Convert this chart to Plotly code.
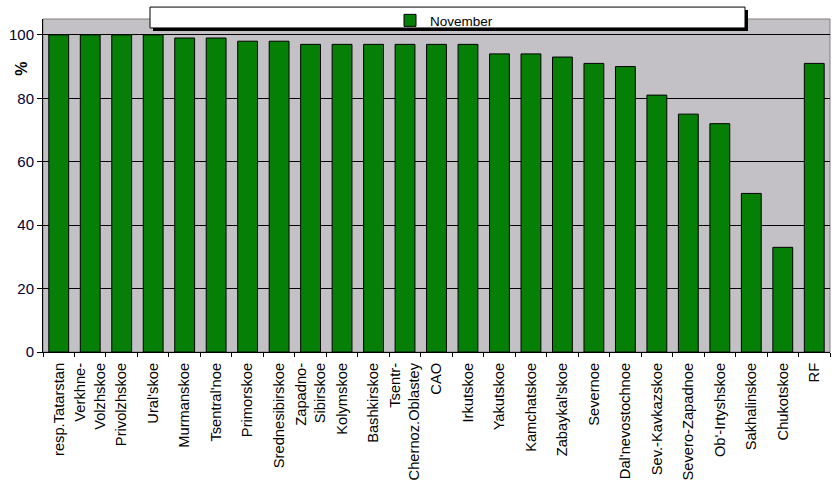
import plotly.graph_objects as go

categories = [
    "resp.Tatarstan", "Verkhne-<br>Volzhskoe", "Privolzhskoe", "Ural'skoe", "Murmanskoe",
    "Tsentral'noe", "Primorskoe", "Srednesibirskoe", "Zapadno-<br>Sibirskoe", "Kolymskoe",
    "Bashkirskoe", "Tsentr-<br>Chernoz.Oblastey", "CAO", "Irkutskoe", "Yakutskoe",
    "Kamchatskoe", "Zabaykal'skoe", "Severnoe", "Dal'nevostochnoe", "Sev.-Kavkazskoe",
    "Severo-Zapadnoe", "Ob'-Irtyshskoe", "Sakhalinskoe", "Chukotskoe", "RF",
]
november = [100, 100, 100, 100, 99, 99, 98, 98, 97, 97, 97, 97, 97, 97, 94,
            94, 93, 91, 90, 81, 75, 72, 50, 33, 91]
y_ticks = [0, 20, 40, 60, 80, 100]

FONT = "Liberation Sans, Arial, sans-serif"

fig = go.Figure()
fig.add_trace(go.Bar(
    x=categories, y=november, name="November",
    marker=dict(color="#067F06", line=dict(color="black", width=1)),
))

W, H = 835, 499
L, R, T, B = 43, 5, 17, 147
pw, ph = W - L - R, H - T - B

def px_x(x):
    return (x - L) / pw

def px_y(y):
    return (H - B - y) / ph

shapes = [
    dict(type="rect", xref="paper", yref="paper", x0=0, x1=1, y0=0, y1=1,
         line=dict(color="#808080", width=1), layer="below"),
    dict(type="rect", xref="paper", yref="paper",
         x0=px_x(153), x1=px_x(748), y0=px_y(29), y1=px_y(8),
         fillcolor="black", line=dict(width=0), layer="above"),
    dict(type="rect", xref="paper", yref="paper",
         x0=px_x(150), x1=px_x(745), y0=px_y(26), y1=px_y(5),
         fillcolor="white", line=dict(color="black", width=1), layer="above"),
]

fig.update_layout(
    width=W, height=H,
    margin=dict(l=L, r=R, t=T, b=B, pad=0),
    paper_bgcolor="white",
    plot_bgcolor="#C3C1C5",
    bargap=0.37,
    font=dict(family=FONT, size=15, color="black"),
    showlegend=True,
    legend=dict(
        x=px_x(390), y=px_y(3), xanchor="left", yanchor="top",
        bgcolor="rgba(0,0,0,0)", borderwidth=0,
        font=dict(family=FONT, size=13.5, color="black"),
    ),
    shapes=shapes,
    annotations=[dict(
        text="<b>%</b>", xref="paper", yref="paper",
        x=px_x(22), y=px_y(67), xanchor="center", yanchor="middle",
        textangle=-90, showarrow=False, font=dict(family=FONT, size=16, color="black"),
    )],
    xaxis=dict(
        type="category", tickangle=-90, tickson="boundaries",
        ticks="outside", ticklen=4, tickcolor="black", ticklabelstandoff=4,
        showline=True, linecolor="black", linewidth=1, showgrid=False,
        tickfont=dict(family=FONT, size=14.7, color="black"),
    ),
    yaxis=dict(
        range=[0, 105], tickvals=y_ticks, ticks="outside", ticklen=5,
        tickcolor="black", showline=True, linecolor="black", linewidth=1,
        showgrid=True, gridcolor="black", gridwidth=1, zeroline=False,
        tickfont=dict(family=FONT, size=15, color="#000033"),
    ),
)

fig.write_html("out.html")
